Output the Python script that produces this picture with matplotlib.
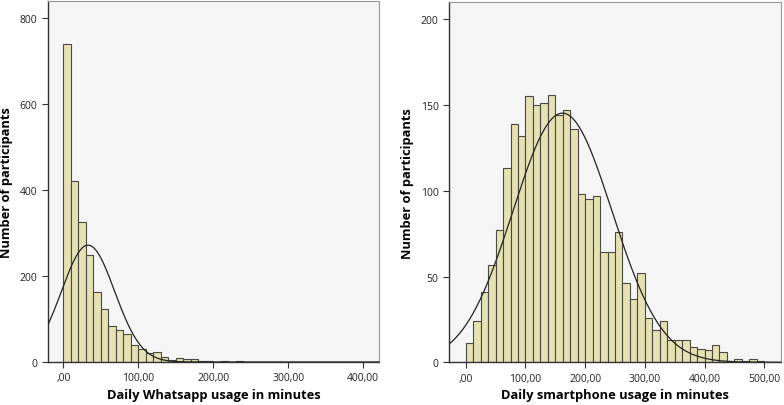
import numpy as np
import matplotlib.pyplot as plt
from matplotlib.ticker import FuncFormatter

# Whatsapp usage histogram, bins of 10 minutes starting at 0
wa_width = 10
wa_counts = [739, 422, 326, 250, 163, 123, 84, 74, 64, 40,
             30, 22, 23, 12, 5, 9, 8, 8, 3, 3,
             1, 2, 0, 2]
wa_mean, wa_sd = 33, 35.4

# Smartphone usage histogram, bins of 12.5 minutes starting at 0
sp_width = 12.5
sp_counts = [11, 24, 41, 57, 77, 113, 139, 132, 155, 150,
             151, 156, 144, 147, 136, 98, 95, 97, 64, 64,
             76, 46, 37, 52, 26, 19, 24, 13, 13, 13,
             9, 8, 7, 10, 6, 1, 2, 1, 2, 1]
sp_mean, sp_sd = 162, 83

wa_xticks = [0, 100, 200, 300, 400]
wa_yticks = [0, 200, 400, 600, 800]
sp_xticks = [0, 100, 200, 300, 400, 500]
sp_yticks = [0, 50, 100, 150, 200]

bar_face = '#e6e1b3'
bar_edge = '#4a4a40'
bg = '#f5f5f5'

plt.rcParams['font.family'] = ['Open Sans', 'DejaVu Sans']

fig = plt.figure(figsize=(7.84, 4.06), dpi=100)
ax1 = fig.add_axes([48/784, 43/406, 331/784, 361/406])
ax2 = fig.add_axes([449/784, 42.7/406, 332/784, 360.3/406])


def comma_fmt(v, pos):
    s = '%.2f' % v
    s = s.replace('.', ',')
    if s.startswith('0,'):
        s = s[1:]
    return s


def draw(ax, counts, width, mean, sd, xlim, ylim, xticks, yticks, xlabel):
    counts = np.array(counts)
    edges = np.arange(len(counts)) * width
    ax.bar(edges, counts, width=width, align='edge', color=bar_face,
           edgecolor=bar_edge, linewidth=0.8, zorder=2)
    n = counts.sum()
    xs = np.linspace(xlim[0], xlim[1], 400)
    ys = n * width / (sd * np.sqrt(2 * np.pi)) * np.exp(-0.5 * ((xs - mean) / sd) ** 2)
    ax.plot(xs, ys, color='#222222', linewidth=0.9, zorder=3)
    ax.set_xlim(*xlim)
    ax.set_ylim(*ylim)
    ax.set_facecolor(bg)
    ax.set_xticks(xticks)
    ax.set_yticks(yticks)
    ax.xaxis.set_major_formatter(FuncFormatter(comma_fmt))
    ax.tick_params(axis='both', labelsize=7.5, length=4, width=0.8,
                   color='#333333', labelcolor='#222222', direction='out')
    for side in ['top', 'right']:
        ax.spines[side].set_color('#999999')
        ax.spines[side].set_linewidth(0.8)
    for side in ['left', 'bottom']:
        ax.spines[side].set_color('#333333')
        ax.spines[side].set_linewidth(1.0)
    ax.set_xlabel(xlabel, fontsize=9.3, fontweight='bold', labelpad=3)
    ax.set_ylabel('Number of participants', fontsize=9.3, fontweight='bold', labelpad=5)


draw(ax1, wa_counts, wa_width, wa_mean, wa_sd, (-20.4, 421), (0, 840),
     wa_xticks, wa_yticks, 'Daily Whatsapp usage in minutes')
draw(ax2, sp_counts, sp_width, sp_mean, sp_sd, (-28, 528), (0, 210),
     sp_xticks, sp_yticks, 'Daily smartphone usage in minutes')

fig.savefig('out.png', dpi=100)
